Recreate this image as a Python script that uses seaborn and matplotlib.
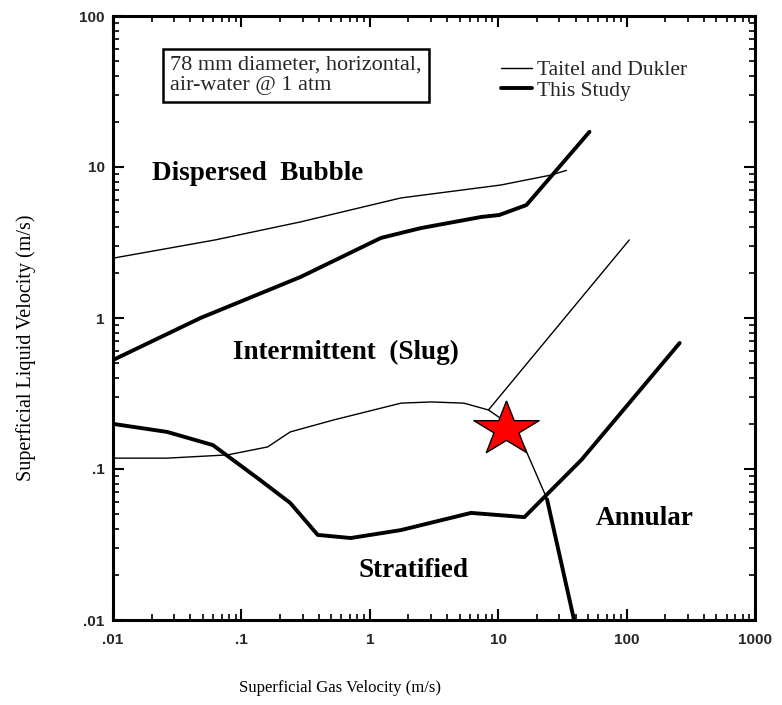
import numpy as np
import pandas as pd
import matplotlib
matplotlib.use("Agg")
import matplotlib.pyplot as plt
import seaborn as sns

# ---- data ----
# Taitel & Dukler (thin lines)
td_bubble_x = [0.01, 0.0626, 0.289, 1.75, 10.5, 25.9, 34.0]
td_bubble_y = [2.49, 3.29, 4.33, 6.24, 7.6, 8.85, 9.5]

td_strat_x = [0.01, 0.0264, 0.078, 0.16, 0.24, 0.52, 1.75, 3.0, 5.4, 8.4, 11.0, 16.0, 23.7]
td_strat_y = [0.118, 0.118, 0.124, 0.14, 0.176, 0.211, 0.273, 0.278, 0.273, 0.246, 0.21, 0.14, 0.065]

td_annular_x = [8.4, 105.0]
td_annular_y = [0.246, 3.29]

# This Study (thick lines)
ts_bubble_x = [0.01, 0.048, 0.289, 1.22, 2.5, 7.4, 10.2, 16.6, 51.4]
ts_bubble_y = [0.527, 1.0, 1.87, 3.39, 3.94, 4.67, 4.81, 5.6, 17.1]

ts_strat_x = [0.01, 0.0264, 0.060, 0.14, 0.24, 0.393, 0.71, 1.75, 6.15, 16.0, 44.5, 259.0]
ts_strat_y = [0.199, 0.176, 0.144, 0.0845, 0.0596, 0.0366, 0.0349, 0.0394, 0.0512, 0.048, 0.115, 0.683]

ts_vert_x = [24.0, 39.3]
ts_vert_y = [0.063, 0.0097]

star_x = [11.6]
star_y = [0.183]

x_ticks = [0.01, 0.1, 1, 10, 100, 1000]
x_tick_labels = [".01", ".1", "1", "10", "100", "1000"]
y_ticks = [0.01, 0.1, 1, 10, 100]
y_tick_labels = [".01", ".1", "1", "10", "100"]

region_labels = ["Dispersed  Bubble", "Intermittent  (Slug)", "Stratified", "Annular"]
region_x = [0.133, 0.65, 2.17, 138.0]
region_y = [9.1, 0.595, 0.0214, 0.0473]

# ---- figure ----
sns.set_theme(style="white")
plt.rcParams["font.family"] = ["Liberation Serif", "DejaVu Serif"]

fig = plt.figure(figsize=(7.82, 7.05), dpi=100)
ax = fig.add_axes([113 / 782, 1 - 620 / 705, 642 / 782, 604 / 705])

thin_lw = 1.0
thick_lw = 2.8


def draw(xs, ys, lw, label=None):
    df = pd.DataFrame({"x": xs, "y": ys})
    sns.lineplot(data=df, x="x", y="y", ax=ax, color="black", linewidth=lw,
                 sort=False, estimator=None, label=label, legend=False)


draw(td_bubble_x, td_bubble_y, thin_lw, "Taitel and Dukler")
draw(td_strat_x, td_strat_y, thin_lw)
draw(td_annular_x, td_annular_y, thin_lw)
draw(ts_bubble_x, ts_bubble_y, thick_lw, "This Study")
draw(ts_strat_x, ts_strat_y, thick_lw)
draw(ts_vert_x, ts_vert_y, thick_lw)

# slightly wide five-pointed star marker (shape only)
ang_out = np.deg2rad(90 + 72 * np.arange(5))
ang_in = ang_out + np.deg2rad(36)
r_in = 0.382
pts = []
for ao, ai in zip(ang_out, ang_in):
    pts.append((1.2 * np.cos(ao), np.sin(ao)))
    pts.append((1.2 * r_in * np.cos(ai), r_in * np.sin(ai)))
pts.append(pts[0])
star_marker = matplotlib.path.Path(pts)

ax.plot(star_x, star_y, marker=star_marker, markersize=47, markerfacecolor="red",
        markeredgecolor="black", markeredgewidth=1.0, linestyle="none", zorder=5)

ax.set_xscale("log")
ax.set_yscale("log")
ax.set_xlim(0.01, 1000)
ax.set_ylim(0.01, 100)

ax.set_xticks(x_ticks)
ax.set_xticklabels(x_tick_labels)
ax.set_yticks(y_ticks)
ax.set_yticklabels(y_tick_labels)
for lab in ax.get_xticklabels() + ax.get_yticklabels():
    lab.set_fontfamily(["Liberation Sans", "DejaVu Sans"])
    lab.set_fontweight("bold")
    lab.set_fontsize(11)

ax.tick_params(which="both", direction="in", top=True, right=True, bottom=True, left=True,
               color="black")
ax.tick_params(which="major", length=8, width=1.5)
ax.tick_params(which="minor", length=4, width=1.2)
ax.tick_params(axis="x", which="major", pad=9)
ax.tick_params(axis="y", which="major", pad=6)

for sp in ax.spines.values():
    sp.set_color("black")
    sp.set_linewidth(2.2)

ax.set_xlabel("Superficial Gas Velocity (m/s)", fontsize=12, color="black")
ax.set_ylabel("Superficial Liquid Velocity (m/s)", fontsize=14.5, color="black")
ax.xaxis.set_label_coords((340 - 113) / 642, -(680 - 620) / 604)
ax.xaxis.label.set_va("top")
ax.yaxis.set_label_coords((36 - 113) / 642, 1 - (348 - 16) / 604)

for t, x, y in zip(region_labels, region_x, region_y):
    ax.text(x, y, t, ha="center", va="center", fontsize=19.5, fontweight="bold", color="black")

ax.text((170 - 113) / 642, 1 - (56 - 16) / 604,
        "78 mm diameter, horizontal,\nair-water @ 1 atm",
        transform=ax.transAxes, ha="left", va="top", fontsize=16, linespacing=1.08,
        bbox=dict(boxstyle="square,pad=0.32", facecolor="white", edgecolor="black", linewidth=1.8))

leg = ax.legend(loc="upper left", bbox_to_anchor=((501 - 113) / 642, 1 - (60 - 16) / 604),
                frameon=False, fontsize=15.5, handlelength=1.45, handletextpad=0.2,
                borderpad=0, borderaxespad=0, labelspacing=0.02)

fig.savefig("out.png", dpi=100, facecolor="white")
